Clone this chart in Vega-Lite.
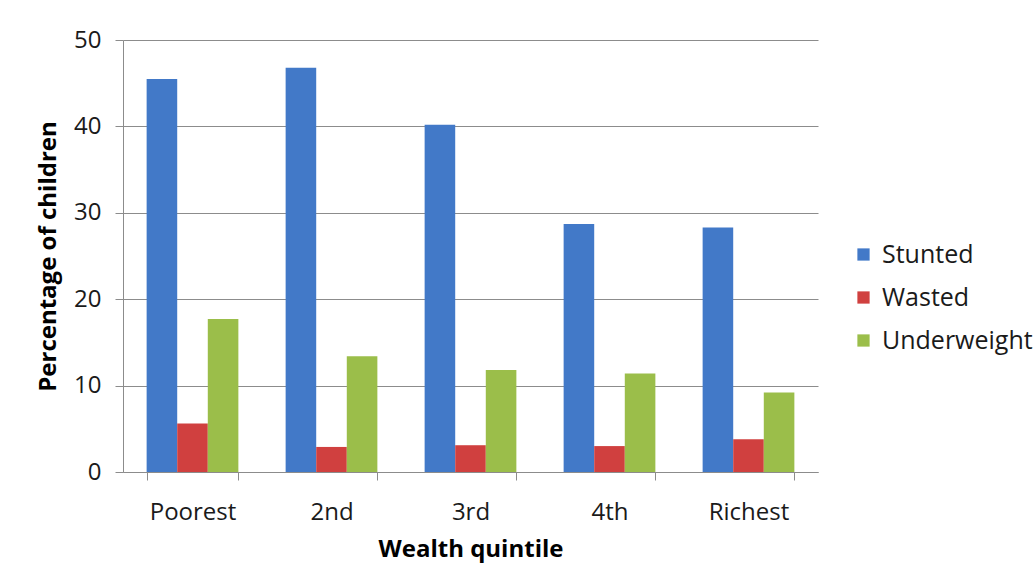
{
  "$schema": "https://vega.github.io/schema/vega-lite/v6.json",
  "autosize": {"type": "none"},
  "width": 695,
  "height": 432,
  "padding": {"left": 123, "top": 40, "right": 217, "bottom": 107},
  "background": "white",
  "data": {
    "values": [
      {"quintile": "Poorest", "indicator": "Stunted", "pct": 45.5},
      {"quintile": "Poorest", "indicator": "Wasted", "pct": 5.6},
      {"quintile": "Poorest", "indicator": "Underweight", "pct": 17.7},
      {"quintile": "2nd", "indicator": "Stunted", "pct": 46.8},
      {"quintile": "2nd", "indicator": "Wasted", "pct": 2.9},
      {"quintile": "2nd", "indicator": "Underweight", "pct": 13.4},
      {"quintile": "3rd", "indicator": "Stunted", "pct": 40.2},
      {"quintile": "3rd", "indicator": "Wasted", "pct": 3.1},
      {"quintile": "3rd", "indicator": "Underweight", "pct": 11.8},
      {"quintile": "4th", "indicator": "Stunted", "pct": 28.7},
      {"quintile": "4th", "indicator": "Wasted", "pct": 3.0},
      {"quintile": "4th", "indicator": "Underweight", "pct": 11.4},
      {"quintile": "Richest", "indicator": "Stunted", "pct": 28.3},
      {"quintile": "Richest", "indicator": "Wasted", "pct": 3.8},
      {"quintile": "Richest", "indicator": "Underweight", "pct": 9.2}
    ]
  },
  "mark": {"type": "bar"},
  "encoding": {
    "x": {
      "field": "quintile",
      "type": "nominal",
      "sort": ["Poorest", "2nd", "3rd", "4th", "Richest"],
      "scale": {"paddingInner": 0.34, "paddingOuter": 0.17},
      "axis": {
        "title": "Wealth quintile",
        "labelAngle": 0,
        "labelFontSize": 24,
        "labelColor": "#1a1a1a",
        "labelPadding": 20,
        "tickBand": "extent",
        "tickSize": 8,
        "tickColor": "#8c8c8c",
        "domainColor": "#8c8c8c",
        "titleFontSize": 24,
        "titleFontWeight": "bold",
        "titleColor": "#000000",
        "titlePadding": 13
      }
    },
    "xOffset": {
      "field": "indicator",
      "type": "nominal",
      "sort": ["Stunted", "Wasted", "Underweight"],
      "scale": {"paddingInner": 0, "paddingOuter": 0}
    },
    "y": {
      "field": "pct",
      "type": "quantitative",
      "scale": {"domain": [0, 50], "nice": false},
      "axis": {
        "title": "Percentage of children",
        "values": [0, 10, 20, 30, 40, 50],
        "labelFontSize": 24,
        "labelColor": "#1a1a1a",
        "labelPadding": 14,
        "tickSize": 8,
        "tickColor": "#8c8c8c",
        "domainColor": "#8c8c8c",
        "gridColor": "#8c8c8c",
        "titleFontSize": 24,
        "titleFontWeight": "bold",
        "titleColor": "#000000",
        "titlePadding": 13
      }
    },
    "color": {
      "field": "indicator",
      "type": "nominal",
      "sort": ["Stunted", "Wasted", "Underweight"],
      "scale": {
        "domain": ["Stunted", "Wasted", "Underweight"],
        "range": ["#4279C8", "#D0403F", "#9BBE4A"]
      },
      "legend": {
        "title": null,
        "orient": "none",
        "legendX": 728,
        "legendY": 202,
        "symbolType": "square",
        "symbolSize": 150,
        "symbolStrokeWidth": 0,
        "labelFontSize": 25,
        "labelColor": "#1a1a1a",
        "rowPadding": 17,
        "labelOffset": 6
      }
    }
  },
  "config": {
    "font": "Open Sans",
    "view": {"stroke": null},
    "axis": {"grid": true, "gridOpacity": 1},
    "axisX": {"grid": false}
  }
}
